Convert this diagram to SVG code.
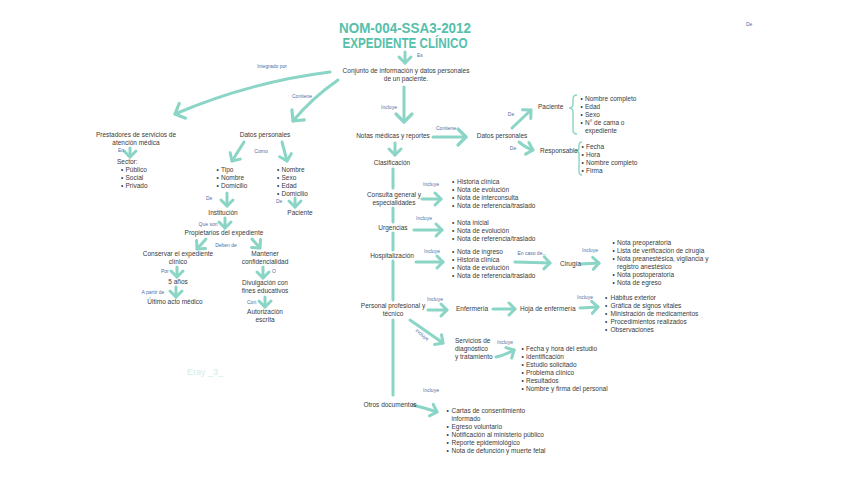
<svg xmlns="http://www.w3.org/2000/svg" width="848" height="477" viewBox="0 0 848 477">
<style>
.t{font-family:"Liberation Sans",Arial,sans-serif;font-size:6.5px;fill:#3a3a3a}
.m{text-anchor:middle}
.l{font-family:"Liberation Sans",Arial,sans-serif;font-size:5px;fill:#4a6fa8}
.title{font-family:"Liberation Sans",Arial,sans-serif;font-size:14px;font-weight:bold;fill:#55bfab;text-anchor:middle}
.c{fill:none;stroke:#8ad5c5;stroke-width:3;stroke-linecap:round}
.a{marker-end:url(#ah)}
.b{marker-end:url(#ahL)}
.br{fill:none;stroke:#8ad5c5;stroke-width:1.4}
</style>
<defs>
<marker id="ah" viewBox="-10 -10 20 20" refX="0" refY="0" markerWidth="20" markerHeight="20" markerUnits="userSpaceOnUse" orient="auto">
<path d="M-6,-6 L0,0 L-6,6" fill="none" stroke="#8ad5c5" stroke-width="3" stroke-linecap="round" stroke-linejoin="round"/>
</marker>
<marker id="ahL" viewBox="-12 -12 24 24" refX="0" refY="0" markerWidth="24" markerHeight="24" markerUnits="userSpaceOnUse" orient="auto">
<path d="M-8,-8 L0,0 L-8,8" fill="none" stroke="#8ad5c5" stroke-width="3.2" stroke-linecap="round" stroke-linejoin="round"/>
</marker>
</defs>
<rect width="848" height="477" fill="#ffffff"/>

<g id="connectors">
<path class="c a" d="M405,52 L405,63"/>
<path class="c b" d="M330,72 Q250,82 175,114"/>
<path class="c b" d="M338,80 Q312,98 293,121"/>
<path class="c b" d="M404,87 L404,122"/>
<path class="c b" d="M433,137 L466,137"/>
<path class="c a" d="M395,143 L395,155"/>
<path class="c a" d="M512,128 L531,110"/>
<path class="c a" d="M519,142 Q526,148 533,150"/>
<path class="c a" d="M130,148 L130,157"/>
<path class="c a" d="M244,142 L232,161"/>
<path class="c a" d="M282,142 L287,161"/>
<path class="c a" d="M227,193 L227,206"/>
<path class="c a" d="M295,198 L295,207"/>
<path class="c a" d="M225,218 L225,228"/>
<path class="c a" d="M206,239 L197,249"/>
<path class="c a" d="M252,239 L260,248"/>
<path class="c a" d="M177,267 L177,277"/>
<path class="c a" d="M176,287 L176,297"/>
<path class="c a" d="M263,267 L263,278"/>
<path class="c a" d="M265,297 L265,307"/>
<path class="c" d="M393,169 L393,188 M393,208 L393,222 M393,233 L393,250 M393,261 L393,300 M393,320 L393,395"/>
<path class="c a" d="M422,199 L441,199"/>
<path class="c a" d="M414,230 L442,230"/>
<path class="c a" d="M416,262 L443,262"/>
<path class="c a" d="M515,262 L550,263"/>
<path class="c a" d="M581,264 L599,263"/>
<path class="c a" d="M428,310 L447,310"/>
<path class="c a" d="M493,309 L515,309"/>
<path class="c a" d="M580,308 L598,307"/>
<path class="c a" d="M410,320 L443,343"/>
<path class="c a" d="M496,357 Q505,355 514,350"/>
<path class="c a" d="M413,405 Q425,408 437,412"/>
<path class="br" d="M577,95 Q573,95 573,99 L573,104 Q573,108 569,108 Q573,108 573,112 L573,130 Q573,134 577,134"/>
<path class="br" d="M582,142 Q579,142 579,146 L579,148 Q579,151 576,151 Q579,151 579,154 L579,171 Q579,175 582,175"/>
<text class="l" x="417" y="57">Es</text>
<text class="l m" x="272" y="68">Integrado por</text>
<text class="l m" x="302" y="98">Contiene</text>
<text class="l m" x="389" y="109">Incluye</text>
<text class="l m" x="446" y="130">Contiene</text>
<text class="l m" x="511" y="116">De</text>
<text class="l m" x="513" y="150">De</text>
<text class="l" x="118" y="152">En</text>
<text class="l m" x="261" y="153">Como</text>
<text class="l" x="206" y="200">De</text>
<text class="l" x="276" y="203">De</text>
<text class="l m" x="208" y="226">Que son</text>
<text class="l m" x="226" y="247">Deben de</text>
<text class="l" x="161" y="273">Por</text>
<text class="l" x="272" y="273">O</text>
<text class="l m" x="153" y="294">A partir de</text>
<text class="l" x="247" y="304">Con</text>
<text class="l m" x="431" y="186">Incluye</text>
<text class="l m" x="424" y="220">Incluye</text>
<text class="l m" x="432" y="253">Incluye</text>
<text class="l m" x="532" y="255">En caso de...</text>
<text class="l m" x="590" y="252">Incluye</text>
<text class="l m" x="435" y="301">Incluye</text>
<text class="l m" x="585" y="299">Incluye</text>
<text class="l m" transform="translate(421,336) rotate(40)">Incluye</text>
<text class="l m" x="505" y="344">Incluye</text>
<text class="l m" x="431" y="392">Incluye</text>
<text class="l" x="746" y="26">De</text>
</g>

<g id="title">
<text class="title" x="405" y="33" textLength="132" lengthAdjust="spacingAndGlyphs">NOM-004-SSA3-2012</text>
<text class="title" x="405" y="48" textLength="125" lengthAdjust="spacingAndGlyphs">EXPEDIENTE CLÍNICO</text>
</g>

<g id="conjunto">
<text class="t m" x="406" y="73">Conjunto de información y datos personales</text>
<text class="t m" x="406" y="81">de un paciente.</text>
</g>

<g id="prestadores">
<text class="t m" x="136" y="137">Prestadores de servicios de</text>
<text class="t m" x="136" y="145">atención médica</text>
</g>
<g id="sector">
<text class="t" x="117" y="164">Sector:</text>
<text class="t"><tspan x="121" y="172">•</tspan><tspan x="125.5">Público</tspan></text>
<text class="t"><tspan x="121" y="180">•</tspan><tspan x="125.5">Social</tspan></text>
<text class="t"><tspan x="121" y="188">•</tspan><tspan x="125.5">Privado</tspan></text>
</g>

<g id="datos-personales-1">
<text class="t m" x="265" y="137">Datos personales</text>
</g>
<g id="lista-institucion">
<text class="t"><tspan x="216.5" y="172">•</tspan><tspan x="221">Tipo</tspan></text>
<text class="t"><tspan x="216.5" y="180">•</tspan><tspan x="221">Nombre</tspan></text>
<text class="t"><tspan x="216.5" y="188">•</tspan><tspan x="221">Domicilio</tspan></text>
</g>
<g id="lista-paciente">
<text class="t"><tspan x="277" y="172">•</tspan><tspan x="281.5">Nombre</tspan></text>
<text class="t"><tspan x="277" y="180">•</tspan><tspan x="281.5">Sexo</tspan></text>
<text class="t"><tspan x="277" y="188">•</tspan><tspan x="281.5">Edad</tspan></text>
<text class="t"><tspan x="277" y="196">•</tspan><tspan x="281.5">Domicilio</tspan></text>
</g>
<g id="institucion"><text class="t m" x="223" y="215">Institución</text></g>
<g id="paciente-1"><text class="t m" x="300" y="215">Paciente</text></g>
<g id="propietarios"><text class="t m" x="224" y="235">Propietarios del expediente</text></g>
<g id="conservar">
<text class="t m" x="178" y="256">Conservar el expediente</text>
<text class="t m" x="178" y="264">clínico</text>
</g>
<g id="mantener">
<text class="t m" x="265" y="256">Mantener</text>
<text class="t m" x="265" y="264">confidencialidad</text>
</g>
<g id="cinco-anos"><text class="t m" x="178" y="284">5 años</text></g>
<g id="ultimo"><text class="t m" x="175" y="304">Último acto médico</text></g>
<g id="divulgacion">
<text class="t m" x="265" y="285">Divulgación con</text>
<text class="t m" x="265" y="293">fines educativos</text>
</g>
<g id="autorizacion">
<text class="t m" x="265" y="314">Autorización</text>
<text class="t m" x="265" y="322">escrita</text>
</g>

<g id="notas"><text class="t m" x="393" y="138">Notas médicas y reportes</text></g>
<g id="datos-personales-2"><text class="t m" x="502" y="138">Datos personales</text></g>
<g id="paciente-2">
<text class="t" x="538" y="109">Paciente</text>
<text class="t"><tspan x="580.5" y="101">•</tspan><tspan x="585">Nombre completo</tspan></text>
<text class="t"><tspan x="580.5" y="109">•</tspan><tspan x="585">Edad</tspan></text>
<text class="t"><tspan x="580.5" y="117">•</tspan><tspan x="585">Sexo</tspan></text>
<text class="t"><tspan x="580.5" y="125">•</tspan><tspan x="585">N° de cama o</tspan></text>
<text class="t" x="585" y="133">expediente</text>
</g>
<g id="responsable">
<text class="t" x="540" y="153">Responsable</text>
<text class="t"><tspan x="581.5" y="149">•</tspan><tspan x="586">Fecha</tspan></text>
<text class="t"><tspan x="581.5" y="157">•</tspan><tspan x="586">Hora</tspan></text>
<text class="t"><tspan x="581.5" y="165">•</tspan><tspan x="586">Nombre completo</tspan></text>
<text class="t"><tspan x="581.5" y="173">•</tspan><tspan x="586">Firma</tspan></text>
</g>
<g id="clasificacion"><text class="t m" x="392" y="165">Clasificación</text></g>
<g id="consulta">
<text class="t m" x="394" y="197">Consulta general y</text>
<text class="t m" x="394" y="205">especialidades</text>
</g>
<g id="lista-consulta">
<text class="t"><tspan x="452" y="184">•</tspan><tspan x="457">Historia clínica</tspan></text>
<text class="t"><tspan x="452" y="192">•</tspan><tspan x="457">Nota de evolución</tspan></text>
<text class="t"><tspan x="452" y="200">•</tspan><tspan x="457">Nota de interconsulta</tspan></text>
<text class="t"><tspan x="452" y="208">•</tspan><tspan x="457">Nota de referencia/traslado</tspan></text>
</g>
<g id="urgencias"><text class="t m" x="393" y="230">Urgencias</text></g>
<g id="lista-urgencias">
<text class="t"><tspan x="452" y="225">•</tspan><tspan x="457">Nota inicial</tspan></text>
<text class="t"><tspan x="452" y="233">•</tspan><tspan x="457">Nota de evolución</tspan></text>
<text class="t"><tspan x="452" y="241">•</tspan><tspan x="457">Nota de referencia/traslado</tspan></text>
</g>
<g id="hospitalizacion"><text class="t m" x="392" y="258">Hospitalización</text></g>
<g id="lista-hospitalizacion">
<text class="t"><tspan x="452" y="254">•</tspan><tspan x="457">Nota de ingreso</tspan></text>
<text class="t"><tspan x="452" y="262">•</tspan><tspan x="457">Historia clínica</tspan></text>
<text class="t"><tspan x="452" y="270">•</tspan><tspan x="457">Nota de evolución</tspan></text>
<text class="t"><tspan x="452" y="278">•</tspan><tspan x="457">Nota de referencia/traslado</tspan></text>
</g>
<g id="cirugia"><text class="t" x="560" y="266">Cirugía</text></g>
<g id="lista-cirugia">
<text class="t"><tspan x="612.5" y="245">•</tspan><tspan x="617">Nota preoperatoria</tspan></text>
<text class="t"><tspan x="612.5" y="253">•</tspan><tspan x="617">Lista de verificación de cirugía</tspan></text>
<text class="t"><tspan x="612.5" y="261">•</tspan><tspan x="617">Nota preanestésica, vigilancia y</tspan></text>
<text class="t" x="617" y="269">registro anestésico</text>
<text class="t"><tspan x="612.5" y="277">•</tspan><tspan x="617">Nota postoperatoria</tspan></text>
<text class="t"><tspan x="612.5" y="285">•</tspan><tspan x="617">Nota de egreso</tspan></text>
</g>
<g id="personal">
<text class="t m" x="393" y="308">Personal profesional y</text>
<text class="t m" x="393" y="316">técnico</text>
</g>
<g id="enfermeria"><text class="t" x="456" y="311">Enfermería</text></g>
<g id="hoja"><text class="t" x="520" y="311">Hoja de enfermería</text></g>
<g id="lista-hoja">
<text class="t"><tspan x="605" y="300">•</tspan><tspan x="610.5">Hábitus exterior</tspan></text>
<text class="t"><tspan x="605" y="308">•</tspan><tspan x="610.5">Gráfica de signos vitales</tspan></text>
<text class="t"><tspan x="605" y="316">•</tspan><tspan x="610.5">Ministración de medicamentos</tspan></text>
<text class="t"><tspan x="605" y="324">•</tspan><tspan x="610.5">Procedimientos realizados</tspan></text>
<text class="t"><tspan x="605" y="332">•</tspan><tspan x="610.5">Observaciones</tspan></text>
</g>
<g id="servicios">
<text class="t" x="455" y="343">Servicios de</text>
<text class="t" x="455" y="351">diagnóstico</text>
<text class="t" x="455" y="359">y tratamiento</text>
</g>
<g id="lista-servicios">
<text class="t"><tspan x="521.5" y="351">•</tspan><tspan x="526">Fecha y hora del estudio</tspan></text>
<text class="t"><tspan x="521.5" y="359">•</tspan><tspan x="526">Identificación</tspan></text>
<text class="t"><tspan x="521.5" y="367">•</tspan><tspan x="526">Estudio solicitado</tspan></text>
<text class="t"><tspan x="521.5" y="375">•</tspan><tspan x="526">Problema clínico</tspan></text>
<text class="t"><tspan x="521.5" y="383">•</tspan><tspan x="526">Resultados</tspan></text>
<text class="t"><tspan x="521.5" y="391">•</tspan><tspan x="526">Nombre y firma del personal</tspan></text>
</g>
<g id="otros"><text class="t m" x="390" y="407">Otros documentos</text></g>
<g id="lista-otros">
<text class="t"><tspan x="446.5" y="413">•</tspan><tspan x="451.5">Cartas de consentimiento</tspan></text>
<text class="t" x="451.5" y="421">informado</text>
<text class="t"><tspan x="446.5" y="429">•</tspan><tspan x="451.5">Egreso voluntario</tspan></text>
<text class="t"><tspan x="446.5" y="437">•</tspan><tspan x="451.5">Notificación al ministerio público</tspan></text>
<text class="t"><tspan x="446.5" y="445">•</tspan><tspan x="451.5">Reporte epidemiológico</tspan></text>
<text class="t"><tspan x="446.5" y="453">•</tspan><tspan x="451.5">Nota de defunción y muerte fetal</tspan></text>
</g>
<g id="firma"><text x="187" y="375" style="font-family:'Liberation Sans',Arial,sans-serif;font-size:9px;fill:#d2ece5">Eray _3_</text></g>
</svg>
